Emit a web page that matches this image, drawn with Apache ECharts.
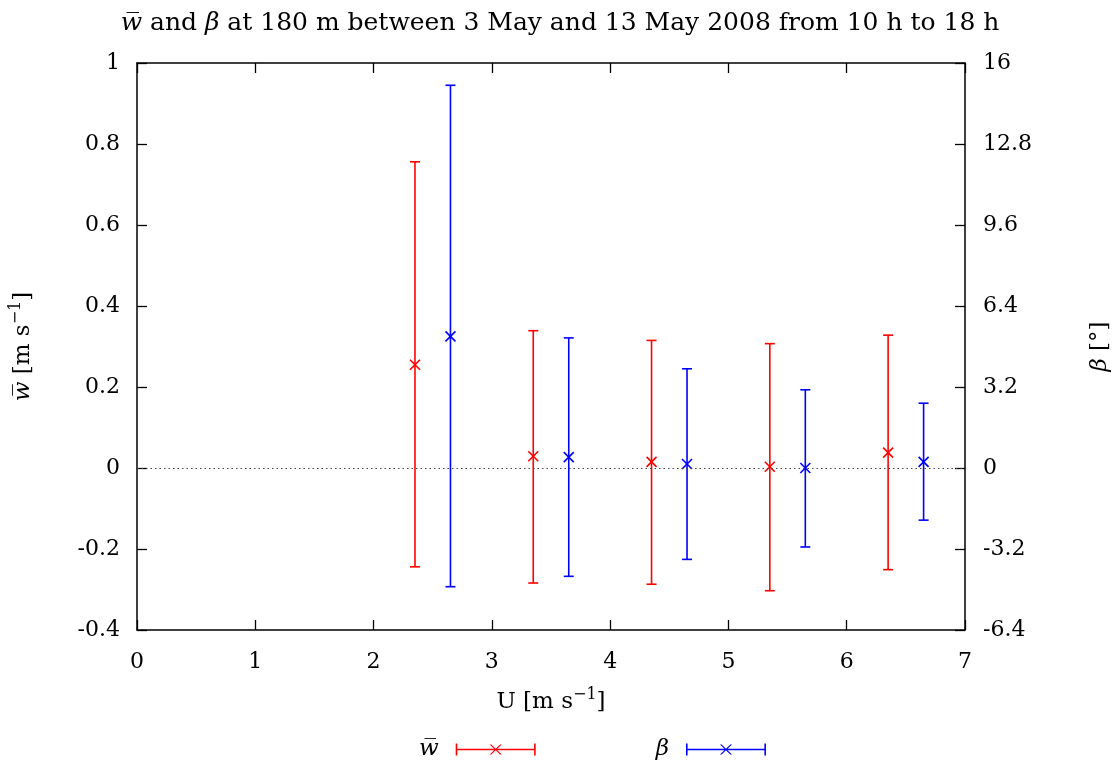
<!DOCTYPE html>
<html>
<head>
<meta charset="utf-8">
<title>w and beta at 180 m</title>
<script src="https://cdn.jsdelivr.net/npm/echarts@6/dist/echarts.min.js"></script>
<style>
  html, body { margin: 0; padding: 0; background: #fff; }
  #chart { width: 1120px; height: 766px; }
</style>
</head>
<body>
<div id="chart"></div>
<script>
// Bin-averaged vertical velocity (w̄) and inclination angle (β) vs. wind speed U.
// Each entry: mean and the lower/upper end of the error bar.
const uW = [2.35, 3.35, 4.35, 5.35, 6.35];
const wMean = [0.255, 0.029, 0.015, 0.003, 0.038];
const wLow = [-0.244, -0.284, -0.287, -0.303, -0.251];
const wHigh = [0.756, 0.339, 0.315, 0.307, 0.328];

const uBeta = [2.65, 3.65, 4.65, 5.65, 6.65];
const betaMean = [5.2, 0.43, 0.16, 0.0, 0.24];
const betaLow = [-4.69, -4.28, -3.61, -3.12, -2.06];
const betaHigh = [15.12, 5.14, 3.92, 3.09, 2.56];

const xTicks = [0, 1, 2, 3, 4, 5, 6, 7];
const wTicks = [-0.4, -0.2, 0, 0.2, 0.4, 0.6, 0.8, 1];
const betaTicks = [-6.4, -3.2, 0, 3.2, 6.4, 9.6, 12.8, 16];

const FONT = 'DejaVu Serif';
const RED = '#ff0000';
const BLUE = '#0000ff';

function rows(x, m, lo, hi) {
  return x.map((v, i) => [v, m[i], lo[i], hi[i]]);
}

// Vertical error bar with end caps and an "x" at the mean.
function renderErrorBar(params, api) {
  const x = api.value(0);
  const pM = api.coord([x, api.value(1)]);
  const pLo = api.coord([x, api.value(2)]);
  const pHi = api.coord([x, api.value(3)]);
  const cap = 5, cr = 5;
  const style = { stroke: api.visual('color'), lineWidth: 1.6, fill: null };
  const seg = (x1, y1, x2, y2) => ({ type: 'line', shape: { x1, y1, x2, y2 }, style });
  return {
    type: 'group',
    children: [
      seg(pLo[0], pLo[1], pHi[0], pHi[1]),
      seg(pLo[0] - cap, pLo[1], pLo[0] + cap, pLo[1]),
      seg(pHi[0] - cap, pHi[1], pHi[0] + cap, pHi[1]),
      seg(pM[0] - cr, pM[1] - cr, pM[0] + cr, pM[1] + cr),
      seg(pM[0] - cr, pM[1] + cr, pM[0] + cr, pM[1] - cr)
    ]
  };
}

// Legend sample: horizontal bar with caps and a cross, as filled shapes (80 x 12 box).
const legendIcon = 'path://' +
  'M0,0 L1.6,0 L1.6,12 L0,12 Z ' +
  'M78.4,0 L80,0 L80,12 L78.4,12 Z ' +
  'M0,5.2 L80,5.2 L80,6.8 L0,6.8 Z ' +
  'M34,1 L35.6,1 L46,11 L44.4,11 Z ' +
  'M44.4,1 L46,1 L35.6,11 L34,11 Z';

const fmt = v => {
  const r = Math.round(v * 10) / 10;
  return r === 0 ? '0' : String(r);
};

function richSet(size) {
  return {
    n: { fontFamily: FONT, fontSize: size, color: '#000', lineHeight: size + 8 },
    w: { fontFamily: FONT, fontSize: size, fontStyle: 'italic', color: '#000', lineHeight: size + 8 },
    b: { fontFamily: FONT, fontSize: size, fontStyle: 'italic', color: '#000', lineHeight: size + 8 },
    sup: { fontFamily: FONT, fontSize: Math.round(size * 0.68), color: '#000', lineHeight: Math.round(size * 0.68), verticalAlign: 'top' }
  };
}

const tickText = { fontFamily: FONT, fontSize: 22, color: '#000' };
const nameText = { fontFamily: FONT, fontSize: 23, color: '#000', rich: richSet(23) };

const axisLineStyle = { color: '#000', width: 1.5 };
const tickStyle = { show: true, inside: true, length: 10, lineStyle: { color: '#000', width: 1.3 } };

const chart = echarts.init(document.getElementById('chart'), null, { renderer: 'canvas' });
chart.setOption({
  animation: false,
  backgroundColor: '#fff',
  title: {
    left: 'center',
    top: 2,
    text: '{w|w\u0305}{n| and }{b|β}{n| at 180 m between 3 May and 13 May 2008 from 10 h to 18 h}',
    textStyle: { fontFamily: FONT, fontSize: 25, fontWeight: 'normal', color: '#000', rich: richSet(25) }
  },
  grid: { left: 137, top: 63, width: 828, height: 567, containLabel: false },
  legend: {
    left: 414,
    top: 733,
    align: 'right',
    itemWidth: 80,
    itemHeight: 12,
    itemGap: 120,
    selectedMode: false,
    itemStyle: { borderWidth: 0 },
    data: [{ name: 'w', icon: legendIcon }, { name: 'beta', icon: legendIcon }],
    formatter: n => (n === 'w' ? '{w|w\u0305}' : '{b|β}'),
    textStyle: { fontFamily: FONT, fontSize: 23, color: '#000', padding: [0, 12, 0, 0], rich: richSet(23) }
  },
  xAxis: [
    {
      type: 'value', position: 'bottom', min: xTicks[0], max: xTicks[xTicks.length - 1], interval: 1,
      splitLine: { show: false },
      axisLine: { onZero: false, lineStyle: axisLineStyle },
      axisTick: tickStyle,
      axisLabel: Object.assign({}, tickText, { margin: 21, formatter: fmt }),
      name: '{n|U [m s}{sup|−1}{n|]}',
      nameLocation: 'middle',
      nameGap: 57,
      nameTextStyle: nameText
    },
    {
      type: 'value', position: 'top', min: xTicks[0], max: xTicks[xTicks.length - 1], interval: 1,
      splitLine: { show: false },
      axisLine: { onZero: false, lineStyle: axisLineStyle },
      axisTick: tickStyle,
      axisLabel: { show: false }
    }
  ],
  yAxis: [
    {
      type: 'value', position: 'left', min: wTicks[0], max: wTicks[wTicks.length - 1], interval: 0.2,
      splitLine: { show: false },
      axisLine: { show: true, onZero: false, lineStyle: axisLineStyle },
      axisTick: tickStyle,
      axisLabel: Object.assign({}, tickText, { margin: 17, formatter: fmt }),
      name: '{w|w\u0305}{n| [m s}{sup|−1}{n|]}',
      nameLocation: 'middle',
      nameRotate: 90,
      nameGap: 98,
      nameTextStyle: nameText
    },
    {
      type: 'value', position: 'right', min: betaTicks[0], max: betaTicks[betaTicks.length - 1], interval: 3.2,
      splitLine: { show: false },
      axisLine: { show: true, onZero: false, lineStyle: axisLineStyle },
      axisTick: tickStyle,
      axisLabel: Object.assign({}, tickText, { margin: 18, formatter: fmt }),
      name: '{b|β}{n| [°]}',
      nameLocation: 'middle',
      nameRotate: 90,
      nameGap: 120,
      nameTextStyle: nameText
    }
  ],
  series: [
    {
      name: 'w',
      type: 'custom',
      xAxisIndex: 0,
      yAxisIndex: 0,
      itemStyle: { color: RED },
      renderItem: renderErrorBar,
      encode: { x: 0, y: [1, 2, 3] },
      data: rows(uW, wMean, wLow, wHigh),
      markLine: {
        silent: true,
        symbol: 'none',
        label: { show: false },
        lineStyle: { color: '#444', width: 1, type: [1.5, 3] },
        data: [{ yAxis: 0 }]
      },
      z: 3
    },
    {
      name: 'beta',
      type: 'custom',
      xAxisIndex: 0,
      yAxisIndex: 1,
      itemStyle: { color: BLUE },
      renderItem: renderErrorBar,
      encode: { x: 0, y: [1, 2, 3] },
      data: rows(uBeta, betaMean, betaLow, betaHigh),
      z: 3
    }
  ]
});
</script>
</body>
</html>
